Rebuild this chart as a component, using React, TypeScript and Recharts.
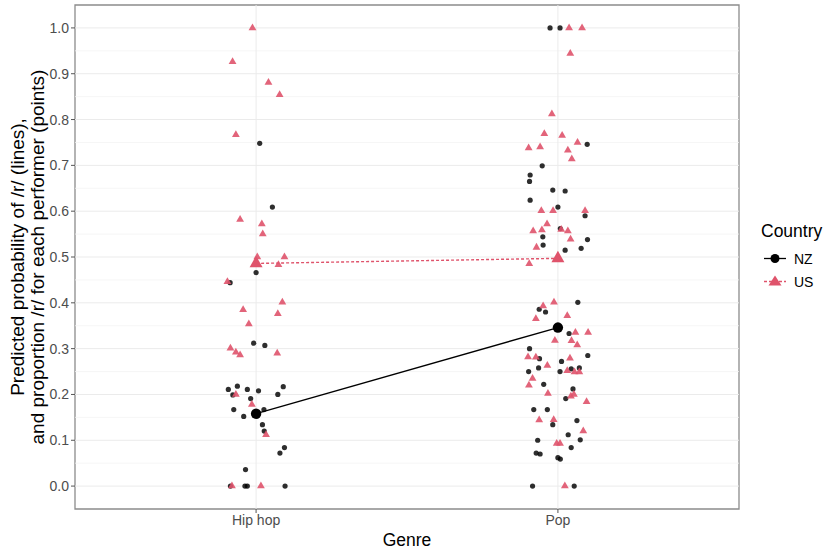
import {
  ScatterChart,
  Scatter,
  XAxis,
  YAxis,
  ReferenceLine,
  ReferenceArea,
} from "recharts";

// genre categories sit at x = 1 and x = 2, points carry their jitter offset
const genres = ["Hip hop", "Pop"];
const yTicks = [0, 0.1, 0.2, 0.3, 0.4, 0.5, 0.6, 0.7, 0.8, 0.9, 1.0];
const yMinor = [0.05, 0.15, 0.25, 0.35, 0.45, 0.55, 0.65, 0.75, 0.85, 0.95];

// [jitter, proportion]
const nzHipHop: [number, number][] = [
  [0.012, 0.748], [0.054, 0.609], [0.0, 0.466], [-0.086, 0.444], [-0.008, 0.312],
  [0.029, 0.307], [-0.092, 0.211], [-0.062, 0.218], [-0.029, 0.211], [0.008, 0.208],
  [0.09, 0.217], [-0.077, 0.199], [0.072, 0.2], [-0.018, 0.191], [-0.074, 0.167],
  [0.026, 0.167], [-0.041, 0.152], [0.021, 0.134], [0.027, 0.12], [0.094, 0.084],
  [0.079, 0.072], [-0.035, 0.036], [-0.085, 0], [-0.037, 0], [-0.029, 0], [0.096, 0],
];
const usHipHop: [number, number][] = [
  [-0.012, 1.0], [-0.078, 0.926], [0.041, 0.881], [0.078, 0.854], [-0.067, 0.767],
  [-0.053, 0.582], [0.019, 0.572], [0.022, 0.55], [0.004, 0.5], [0.094, 0.5],
  [0.074, 0.483], [-0.095, 0.446], [0.087, 0.401], [-0.043, 0.385], [0.072, 0.376],
  [-0.024, 0.354], [-0.085, 0.301], [-0.067, 0.292], [-0.053, 0.286], [0.07, 0.29],
  [-0.067, 0.2], [-0.014, 0.178], [0.033, 0.112], [-0.08, 0], [0.016, 0],
];
const nzPop: [number, number][] = [
  [-0.026, 1.0], [0.007, 1.0], [0.097, 0.746], [-0.052, 0.699], [-0.092, 0.679],
  [-0.094, 0.665], [-0.017, 0.646], [0.024, 0.644], [-0.092, 0.624], [0.0, 0.609],
  [0.09, 0.59], [0.008, 0.562], [-0.05, 0.544], [0.098, 0.538], [-0.049, 0.526],
  [0.024, 0.515], [0.077, 0.519], [0.066, 0.401], [-0.062, 0.386], [-0.041, 0.38],
  [0.037, 0.333], [-0.094, 0.3], [-0.061, 0.278], [0.099, 0.285], [0.012, 0.272],
  [-0.064, 0.258], [-0.097, 0.25], [0.007, 0.25], [0.044, 0.256], [0.071, 0.258],
  [-0.047, 0.222], [0.05, 0.212], [0.026, 0.191], [-0.08, 0.167], [-0.035, 0.167],
  [-0.017, 0.134], [0.063, 0.143], [0.034, 0.112], [-0.067, 0.1], [0.074, 0.101],
  [0.044, 0.084], [-0.072, 0.072], [-0.059, 0.07], [0.0, 0.062], [0.008, 0.059],
  [-0.084, 0], [0.054, 0],
];
const usPop: [number, number][] = [
  [0.037, 1.0], [0.08, 1.0], [0.041, 0.944], [-0.02, 0.812], [-0.045, 0.769],
  [0.014, 0.765], [0.065, 0.75], [-0.097, 0.738], [-0.059, 0.74], [0.033, 0.733],
  [0.046, 0.714], [-0.055, 0.601], [-0.016, 0.601], [0.09, 0.601], [-0.036, 0.572],
  [-0.082, 0.557], [-0.053, 0.559], [0.011, 0.56], [0.033, 0.557], [0.042, 0.539],
  [-0.071, 0.521], [-0.095, 0.485], [-0.013, 0.401], [-0.049, 0.393], [-0.073, 0.365],
  [0.031, 0.372], [0.058, 0.335], [0.1, 0.335], [-0.01, 0.318], [0.045, 0.317],
  [0.064, 0.308], [-0.099, 0.282], [-0.073, 0.281], [0.04, 0.279], [-0.035, 0.263],
  [0.031, 0.252], [0.055, 0.249], [0.071, 0.249], [-0.084, 0.235], [-0.096, 0.22],
  [-0.033, 0.202], [0.043, 0.196], [0.053, 0.2], [0.095, 0.184], [-0.062, 0.144],
  [-0.014, 0.145], [0.084, 0.12], [-0.004, 0.093], [0.007, 0.093], [0.023, 0],
];

// predicted probabilities (lines)
const nzPredicted = [0.158, 0.346];
const usPredicted = [0.486, 0.497];

const NZ = "#000000";
const US = "#DF536B";
const FONT = "'Liberation Sans', Arial, sans-serif";

const toPoints = (rows: [number, number][], cat: number) =>
  rows.map(([j, v]) => ({ x: cat + j, y: v }));

const nzPoints = [...toPoints(nzHipHop, 1), ...toPoints(nzPop, 2)];
const usPoints = [...toPoints(usHipHop, 1), ...toPoints(usPop, 2)];
const nzLine = nzPredicted.map((v, i) => ({ x: i + 1, y: v }));
const usLine = usPredicted.map((v, i) => ({ x: i + 1, y: v }));

const dot = (r: number, color: string, opacity: number) => (p: any) =>
  <circle cx={p.cx} cy={p.cy} r={r} fill={color} fillOpacity={opacity} />;

const tri = (s: number, color: string, opacity: number) => (p: any) => {
  const h = (s * Math.sqrt(3)) / 2;
  const pts = `${p.cx},${p.cy - (2 * h) / 3} ${p.cx - s / 2},${p.cy + h / 3} ${p.cx + s / 2},${p.cy + h / 3}`;
  return <polygon points={pts} fill={color} fillOpacity={opacity} />;
};

const YLabel = (props: any) => {
  const vb = props.viewBox;
  const cy = vb.y + vb.height / 2;
  return (
    <g fontFamily={FONT} fontSize={19} fill="#000">
      <text x={17} y={cy} transform={`rotate(-90 17 ${cy})`} textAnchor="middle" dominantBaseline="central">
        Predicted probability of /r/ (lines),
      </text>
      <text x={37} y={cy} transform={`rotate(-90 37 ${cy})`} textAnchor="middle" dominantBaseline="central">
        and proportion /r/ for each performer (points)
      </text>
    </g>
  );
};

const LegendBox = () => (
  <div style={{ position: "absolute", left: 761, top: 220, fontFamily: FONT, color: "#000" }}>
    <div style={{ fontSize: 17.5, lineHeight: "22px" }}>Country</div>
    {[
      { name: "NZ", color: NZ, shape: "c" },
      { name: "US", color: US, shape: "t" },
    ].map((e) => (
      <div key={e.name} style={{ display: "flex", alignItems: "center", height: 23, marginTop: e.name === "NZ" ? 5 : 0 }}>
        <svg width={28} height={23}>
          <line x1={3} x2={25} y1={11.5} y2={11.5} stroke={e.color} strokeWidth={1.3}
            strokeDasharray={e.shape === "t" ? "3 2" : undefined} />
          {e.shape === "c" ? (
            <circle cx={14} cy={11.5} r={4.5} fill={e.color} />
          ) : (
            <polygon points="14,5.5 7.5,15.5 20.5,15.5" fill={e.color} />
          )}
        </svg>
        <span style={{ fontSize: 14, marginLeft: 5 }}>{e.name}</span>
      </div>
    ))}
  </div>
);

export default function App() {
  return (
    <div style={{ position: "absolute", left: 0, top: 0, width: 828, height: 549, background: "#fff" }}>
      <ScatterChart width={828} height={549} margin={{ top: 5, right: 89, bottom: 0, left: 0 }}>
        {yMinor.map((v) => (
          <ReferenceLine key={"m" + v} y={v} stroke="#F4F4F4" strokeWidth={0.8} />
        ))}
        {yTicks.map((v) => (
          <ReferenceLine key={"M" + v} y={v} stroke="#EBEBEB" strokeWidth={1} />
        ))}
        {[1, 2].map((v) => (
          <ReferenceLine key={"v" + v} x={v} stroke="#EBEBEB" strokeWidth={1} />
        ))}
        <XAxis
          type="number"
          dataKey="x"
          domain={[0.4, 2.6]}
          ticks={[1, 2]}
          tickFormatter={(v: number) => genres[v - 1]}
          height={40}
          axisLine={false}
          tickSize={4}
          tickLine={{ stroke: "#555" }}
          tick={{ fill: "#4D4D4D", fontSize: 14, fontFamily: FONT }}
          label={{ value: "Genre", position: "insideBottom", offset: 3, fill: "#000", fontSize: 17.5, fontFamily: FONT }}
        />
        <YAxis
          type="number"
          dataKey="y"
          domain={[-0.05, 1.05]}
          ticks={yTicks}
          tickFormatter={(v: number) => v.toFixed(1)}
          width={75}
          axisLine={false}
          tickSize={4}
          tickMargin={2}
          tickLine={{ stroke: "#555" }}
          tick={{ fill: "#4D4D4D", fontSize: 14, fontFamily: FONT }}
          label={{ content: YLabel }}
        />
        <Scatter data={nzPoints} shape={dot(2.6, NZ, 0.82)} isAnimationActive={false} />
        <Scatter data={usPoints} shape={tri(7.8, US, 0.9)} isAnimationActive={false} />
        <Scatter
          data={nzLine}
          line={{ stroke: NZ, strokeWidth: 1.4 }}
          shape={dot(5.2, NZ, 1)}
          isAnimationActive={false}
        />
        <Scatter
          data={usLine}
          line={{ stroke: US, strokeWidth: 1.4, strokeDasharray: "3 2" }}
          shape={tri(13, US, 1)}
          isAnimationActive={false}
        />
        <ReferenceArea x1={0.4} x2={2.6} y1={-0.05} y2={1.05} fill="none" stroke="#8C8C8C" strokeWidth={1.3} />
      </ScatterChart>
      <LegendBox />
    </div>
  );
}
